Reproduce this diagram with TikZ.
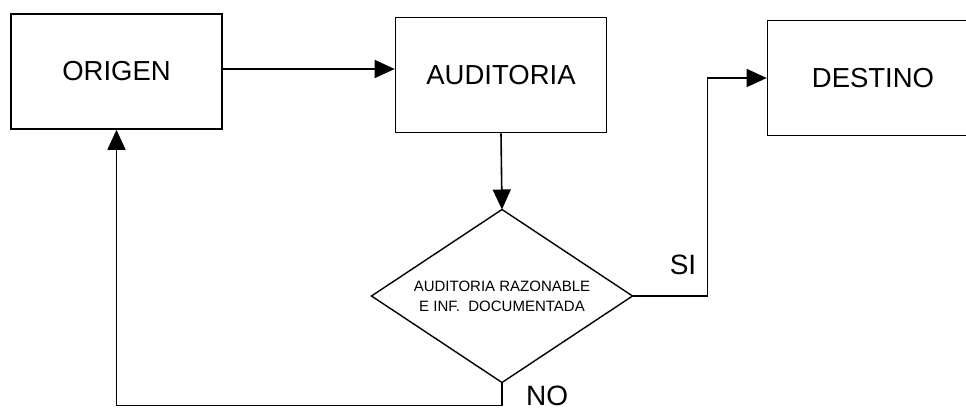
\documentclass[tikz,border=0pt]{standalone}
\usepackage{fontspec}
\setmainfont{Liberation Sans}
\usetikzlibrary{shapes.geometric,arrows.meta}
\begin{document}
\begin{tikzpicture}[x=1pt,y=-1pt,
  box/.style={draw,line width=1.6pt,minimum width=211pt,minimum height=115pt,
    inner sep=0pt,font=\fontsize{27.5}{30}\selectfont},
  decision/.style={draw,line width=1.4pt,shape=diamond,shape aspect=1.509,
    minimum width=261pt,minimum height=173pt,inner sep=0pt,outer sep=0pt,
    align=center,font=\fontsize{15}{20}\selectfont},
  flow/.style={line width=1.6pt,-{Triangle[length=20pt,width=18pt]}},
  tag/.style={inner sep=0pt,font=\fontsize{28}{30}\selectfont}]
\useasboundingbox (0,0) rectangle (966,409);
\clip (0,0) rectangle (966,409);
\fill[white] (0,0) rectangle (966,409);

% process boxes
\node[box] (origen)    at (116.5,71.5) {ORIGEN};
\node[box] (auditoria) at (501,75)     {AUDITORIA};
\node[box] (destino)   at (873,78)     {DESTINO};

% decision
\node[decision] (check) at (502,296) {AUDITORIA RAZONABLE\\E INF.\ \ DOCUMENTADA};

% connectors
\draw[flow] ([yshift=2.5pt]origen.east) -- ([yshift=2.5pt]origen.east -| auditoria.west);
\draw[flow] (auditoria.south) -- (check.north);
\draw[flow] (check.east) -- ++(75,0) |- (destino.west);
\draw[flow] (check.south) -- ++(0,23) -| (origen.south);

% branch labels
\node[tag] (si) at (683,265) {SI};
\node[tag,anchor=base west] (no) at (526,405) {NO};
\end{tikzpicture}
\end{document}
